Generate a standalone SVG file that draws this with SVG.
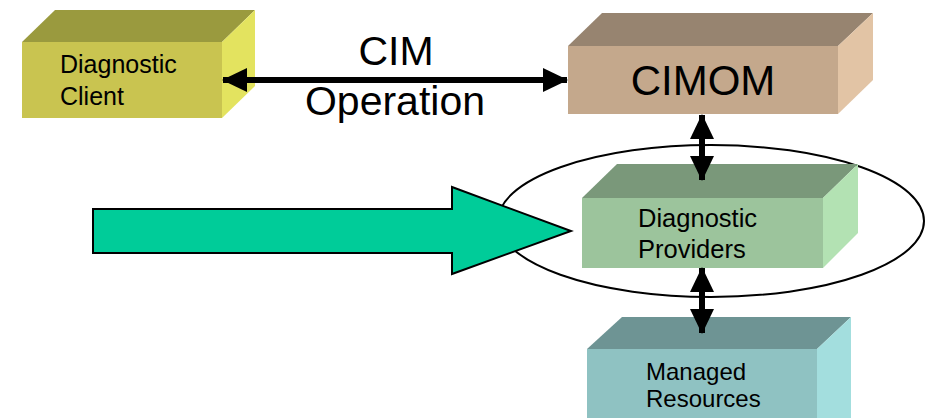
<svg xmlns="http://www.w3.org/2000/svg" width="928" height="418" viewBox="0 0 928 418">
<defs>
<style>
text{font-family:"Liberation Sans",Arial,sans-serif;fill:#000}
.edge{stroke:#000;stroke-width:6;fill:none}
</style>
<marker id="ah" viewBox="0 0 25 24" refX="24" refY="12" markerWidth="25" markerHeight="24" markerUnits="userSpaceOnUse" orient="auto-start-reverse">
<path d="M0,0 L25,12 L0,24 Z" fill="#000"/>
</marker>
</defs>
<rect width="928" height="418" fill="#fff"/>

<ellipse cx="711" cy="221" rx="213" ry="76" fill="none" stroke="#000" stroke-width="2"/>

<g id="client">
<polygon points="22,42 55,10 255,10 222,42" fill="#9a9a3e"/>
<polygon points="222,42 255,10 255,86 222,118" fill="#e3e35f"/>
<rect x="22" y="42" width="200" height="76" fill="#c9c450"/>
<text x="60" y="73" font-size="25">Diagnostic</text>
<text x="60" y="105" font-size="25">Client</text>
</g>

<g id="cimom">
<polygon points="568,46 602,13 873,13 838,46" fill="#978470"/>
<polygon points="838,46 873,13 873,80 838,114" fill="#e2c4a5"/>
<rect x="568" y="46" width="270" height="68" fill="#c4a88c"/>
<text x="703" y="95" font-size="42" text-anchor="middle">CIMOM</text>
</g>

<g id="providers">
<polygon points="582,198 617,164 858,164 823,198" fill="#7a987a"/>
<polygon points="823,198 858,164 858,233 823,268" fill="#b3e2b3"/>
<rect x="582" y="198" width="241" height="70" fill="#9cc49c"/>
<text x="638" y="227" font-size="25.5">Diagnostic</text>
<text x="638" y="258" font-size="25.5">Providers</text>
</g>

<g id="resources">
<polygon points="587,349 622,317 851,317 817,349" fill="#6e9494"/>
<polygon points="817,349 851,317 851,418 817,418" fill="#a3dede"/>
<rect x="587" y="349" width="230" height="69" fill="#8fc2c2"/>
<text x="646" y="380" font-size="24">Managed</text>
<text x="646" y="407" font-size="24">Resources</text>
</g>

<g id="cim-operation">
<text x="396" y="65" font-size="41" text-anchor="middle">CIM</text>
<text x="395" y="115" font-size="41" text-anchor="middle">Operation</text>
</g>

<g id="big-arrow">
<polygon points="93,209 452,209 452,187 571,231 452,274 452,253 93,253" fill="#00cc99" stroke="#000" stroke-width="2" stroke-linejoin="miter"/>
</g>

<g id="connectors">
<line class="edge" x1="223" y1="80" x2="567" y2="80" marker-start="url(#ah)" marker-end="url(#ah)"/>
<line class="edge" x1="702" y1="115" x2="702" y2="180" marker-start="url(#ah)" marker-end="url(#ah)"/>
<line class="edge" x1="702" y1="268" x2="702" y2="333" marker-start="url(#ah)" marker-end="url(#ah)"/>
</g>
</svg>
